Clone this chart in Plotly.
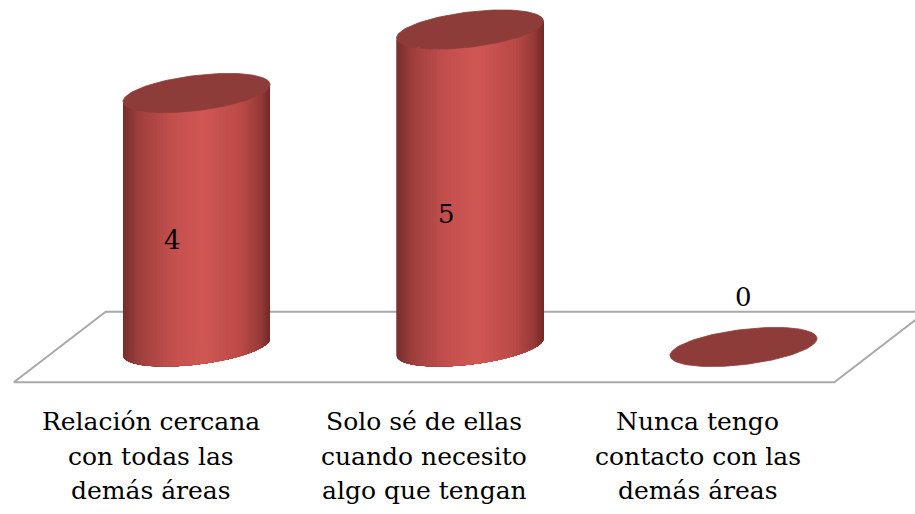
import numpy as np
import plotly.graph_objects as go

# ---------------- data ----------------
categories = [
    "Relación cercana con todas las demás áreas",
    "Solo sé de ellas cuando necesito algo que tengan",
    "Nunca tengo contacto con las demás áreas",
]
category_lines = [
    ["Relación cercana", "con todas las", "demás áreas"],
    ["Solo sé de ellas", "cuando necesito", "algo que tengan"],
    ["Nunca tengo", "contacto con las", "demás áreas"],
]
values = [4, 5, 0]

# ---------------- layout constants (style) ----------------
W, H = 915, 514
PX_X = 273.5          # pixels per category step
X0_PX = 196.5         # pixel x of first category
PX_Y = 63.5           # pixels per value unit
BASE_PX = 347         # pixel y of value 0
x_range = [-X0_PX / PX_X, (W - X0_PX) / PX_X]
y_range = [-(H - BASE_PX) / PX_Y, BASE_PX / PX_Y]

A_PX, B_PX = 74.0, 17.5          # ellipse semi axes in px
THETA = np.deg2rad(7.0)          # tilt (right side higher)
FLOOR_SKEW = 0.168               # x skew of floor (category units)
FLOOR_DEPTH = 0.556              # half depth of floor (value units)
SERIF = "DejaVu Serif"

body_stops = [(0.0, (118, 46, 45)), (0.12, (160, 64, 62)), (0.35, (196, 80, 78)),
              (0.55, (207, 87, 84)), (0.8, (186, 74, 71)), (0.93, (150, 58, 56)),
              (1.0, (112, 42, 41))]
TOP_COLOR = "rgb(142,60,58)"


def shade(u):
    for (u0, c0), (u1, c1) in zip(body_stops[:-1], body_stops[1:]):
        if u0 <= u <= u1:
            t = (u - u0) / (u1 - u0)
            c = [round(c0[k] + (c1[k] - c0[k]) * t) for k in range(3)]
            return "rgb(%d,%d,%d)" % tuple(c)
    return "rgb(%d,%d,%d)" % body_stops[-1][1]


def ellipse_pts(phi):
    xp = A_PX * np.cos(phi) * np.cos(THETA) - B_PX * np.sin(phi) * np.sin(THETA)
    yp = A_PX * np.cos(phi) * np.sin(THETA) + B_PX * np.sin(phi) * np.cos(THETA)
    return xp / PX_X, yp / PX_Y


fig = go.Figure()

# floor
n = len(categories)
fx = [-0.5 - FLOOR_SKEW, n - 0.5 - FLOOR_SKEW, n - 0.5 + FLOOR_SKEW, -0.5 + FLOOR_SKEW, -0.5 - FLOOR_SKEW]
fy = [-FLOOR_DEPTH, -FLOOR_DEPTH, FLOOR_DEPTH, FLOOR_DEPTH, -FLOOR_DEPTH]
fig.add_trace(go.Scatter(x=fx, y=fy, mode="lines", line=dict(color="#a9a9a9", width=2),
                         hoverinfo="skip", showlegend=False))

phi0 = np.arctan(-(B_PX / A_PX) * np.tan(THETA))
NSTRIP = 60
for i, v in enumerate(values):
    if v > 0:
        edges = np.linspace(phi0 + np.pi, phi0 + 2 * np.pi, NSTRIP + 1)
        for k in range(NSTRIP):
            # each strip spans from its own left edge to the right silhouette;
            # later strips paint over earlier ones, so no seams appear
            ph = np.linspace(edges[k], edges[-1], max(3, (NSTRIP - k) * 2))
            ex, ey = ellipse_pts(ph)
            xs = np.concatenate([i + ex, (i + ex)[::-1]])
            ys = np.concatenate([ey, (v + ey)[::-1]])
            exm, _ = ellipse_pts(np.array([(edges[k] + edges[k + 1]) / 2]))
            u = (exm[0] * PX_X + A_PX) / (2 * A_PX)
            col = shade(min(max(u, 0), 1))
            fig.add_trace(go.Scatter(x=xs, y=ys, mode="lines", fill="toself", fillcolor=col,
                                     line=dict(width=0), hoverinfo="skip",
                                     showlegend=False))
    ph = np.linspace(0, 2 * np.pi, 120)
    ex, ey = ellipse_pts(ph)
    fig.add_trace(go.Scatter(x=i + ex, y=v + ey, mode="lines", fill="toself",
                             fillcolor=TOP_COLOR, line=dict(color=TOP_COLOR, width=0.8),
                             hoverinfo="skip", showlegend=False))

annotations = []
# value labels
for i, v in enumerate(values):
    if v > 0:
        annotations.append(dict(x=i, y=v * 0.42, xref="x", yref="y", text=str(v), showarrow=False,
                                xshift=-24, font=dict(family=SERIF, size=26, color="black")))
    else:
        annotations.append(dict(x=i, y=0.78, xref="x", yref="y", text=str(v), showarrow=False,
                                font=dict(family=SERIF, size=26, color="black")))

# category labels
line_centers_px = [421, 456, 490]
for i, lines in enumerate(category_lines):
    for j, t in enumerate(lines):
        annotations.append(dict(x=i, y=1 - line_centers_px[j] / H, xref="x", yref="paper", text=t,
                                showarrow=False, xshift=-46, yanchor="middle",
                                font=dict(family=SERIF, size=25, color="black")))

fig.update_layout(
    width=W, height=H, margin=dict(l=0, r=0, t=0, b=0),
    paper_bgcolor="white", plot_bgcolor="white",
    xaxis=dict(range=x_range, visible=False, fixedrange=True),
    yaxis=dict(range=y_range, visible=False, fixedrange=True),
    annotations=annotations, showlegend=False,
)

fig.write_html("out.html")
